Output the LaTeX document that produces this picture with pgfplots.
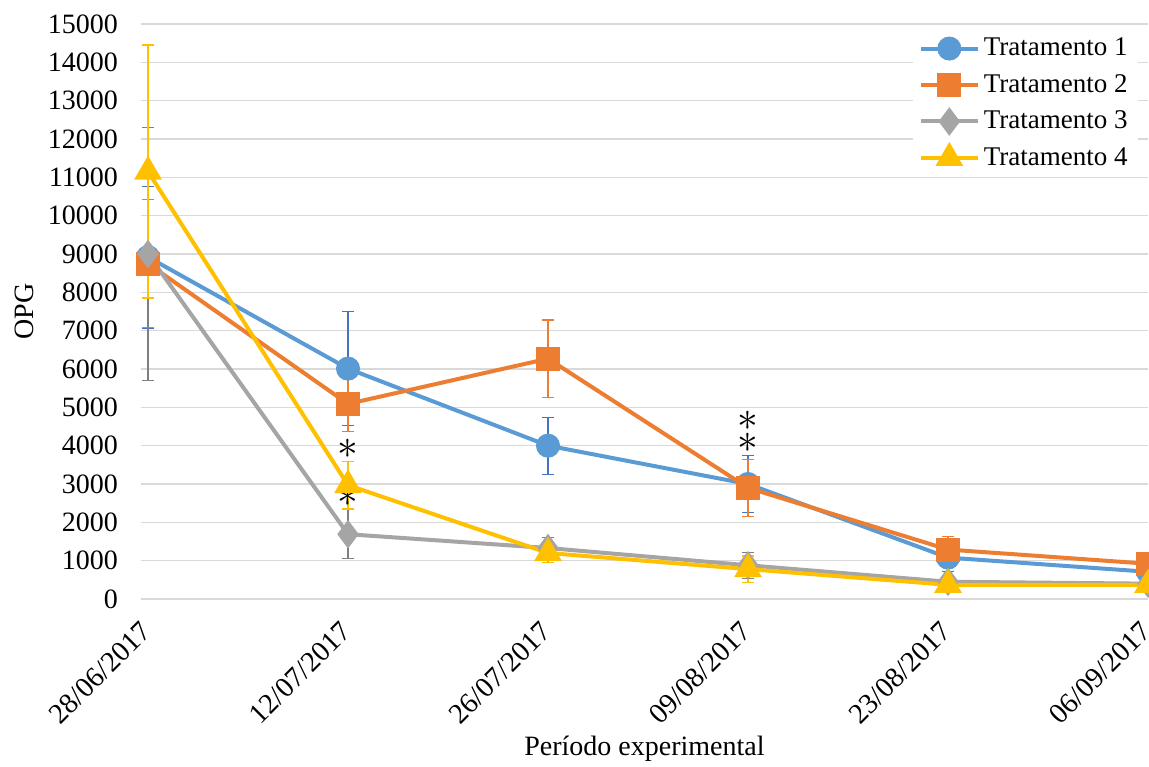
\documentclass[border=0pt]{standalone}
\usepackage{pgfplots}
\pgfplotsset{compat=1.18}
\usepackage{fontspec}
\setmainfont{Liberation Serif}
\definecolor{c1}{HTML}{5B9BD5}
\definecolor{c2}{HTML}{ED7D31}
\definecolor{c3}{HTML}{A5A5A5}
\definecolor{c4}{HTML}{FFC000}
\definecolor{e1}{HTML}{4472C4}
\definecolor{e3}{HTML}{7F7F7F}
\definecolor{gridc}{HTML}{D9D9D9}
\begin{document}
\begin{tikzpicture}
\begin{axis}[
  scale only axis,
  width=503.5pt, height=287.5pt,
  xmin=-0.035, xmax=5, ymin=0, ymax=15000,
  xtick={0,1,2,3,4,5},
  xticklabels={28/06/2017,12/07/2017,26/07/2017,09/08/2017,23/08/2017,06/09/2017},
  ytick distance=1000,
  ymajorgrids, grid style={gridc, line width=0.6pt},
  axis line style={draw=none},
  major tick length=0pt,
  /pgf/number format/assume math mode=true,
  scaled y ticks=false,
  yticklabel style={/pgf/number format/1000 sep={}, font=\fontsize{14}{16}\selectfont, xshift=-8pt},
  xticklabel style={xshift=-4.5pt, yshift=-5.5pt, rotate=45, anchor=north east, font=\fontsize{14.3}{16}\selectfont},
  ylabel={OPG}, ylabel style={font=\fontsize{14}{16}\selectfont},
  xlabel={Período experimental}, xlabel style={font=\fontsize{14}{16}\selectfont, yshift=3pt},
  legend style={draw=none, fill=white, at={(rel axis cs:0.99,0.99)}, anchor=north east,
     font=\fontsize{13.5}{15}\selectfont, row sep=3.8pt, cells={anchor=west}},
  legend image code/.code={\draw[mark repeat=2,mark phase=2,#1] plot coordinates {(0cm,0cm) (0.5cm,0cm) (1cm,0cm)};},
  every axis plot/.append style={line width=2pt},
  error bars/y dir=both, error bars/y explicit,
  error bars/error mark options={rotate=90, mark size=3pt, line width=0.6pt},
]
\addplot[c1, mark=*, mark size=5pt, mark options={solid, fill=c1},
  error bars/error bar style={e1, line width=0.6pt}, error bars/error mark options={rotate=90, mark size=3pt, line width=0.6pt, e1}]
  coordinates {(0,8920)+-(0,1850) (1,6010)+-(0,1490) (2,4000)+-(0,745) (3,3000)+-(0,740) (4,1080)+-(0,370) (5,710)+-(0,200)};
\addlegendentry{Tratamento 1}
\addplot[c2, mark=square*, mark size=5pt, mark options={solid, fill=c2},
  error bars/error bar style={c2, line width=0.6pt}, error bars/error mark options={rotate=90, mark size=3pt, line width=0.6pt, c2}]
  coordinates {(0,8750)+-(0,1670) (1,5090)+-(0,720) (2,6270)+-(0,1010) (3,2900)+-(0,740) (4,1290)+-(0,350) (5,920)+-(0,200)};
\addlegendentry{Tratamento 2}
\addplot[c3, mark=diamond*, mark size=5.5pt, mark options={solid, fill=c3},
  error bars/error bar style={e3, line width=0.6pt}, error bars/error mark options={rotate=90, mark size=3pt, line width=0.6pt, e3}]
  coordinates {(0,9000)+-(0,3290) (1,1690)+-(0,640) (2,1330)+-(0,280) (3,880)+-(0,340) (4,450)+-(0,150) (5,400)+-(0,100)};
\addlegendentry{Tratamento 3}
\addplot[c4, mark=triangle*, mark size=6pt, mark options={solid, fill=c4},
  error bars/error bar style={c4, line width=0.6pt}, error bars/error mark options={rotate=90, mark size=3pt, line width=0.6pt, c4}]
  coordinates {(0,11150)+-(0,3300) (1,2970)+-(0,620) (2,1200)+-(0,250) (3,780)+-(0,340) (4,370)+-(0,150) (5,370)+-(0,100)};
\addlegendentry{Tratamento 4}
\node[font=\fontsize{21}{21}\selectfont] at (axis cs:1,3913) {$\ast$};
\node[font=\fontsize{21}{21}\selectfont] at (axis cs:1,2661) {$\ast$};
\node[font=\fontsize{21}{21}\selectfont] at (axis cs:3,4644) {$\ast$};
\node[font=\fontsize{21}{21}\selectfont] at (axis cs:3,4070) {$\ast$};
\end{axis}
\pgfresetboundingbox
\path (-70.5pt,-83.5pt) rectangle (504pt,299.5pt);
\end{tikzpicture}
\end{document}
